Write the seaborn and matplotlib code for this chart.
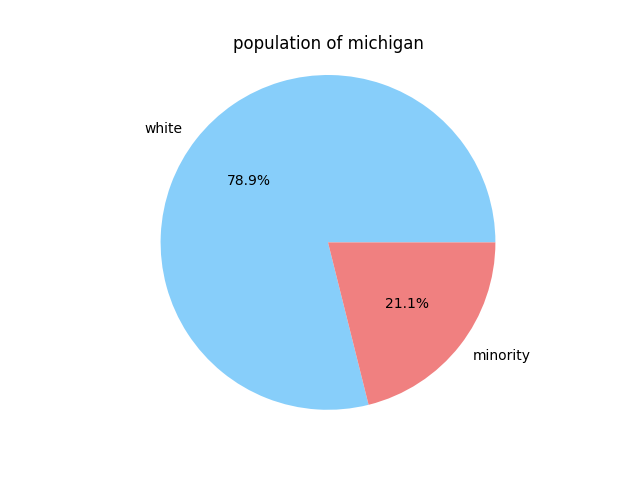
import matplotlib
matplotlib.use("Agg")
import matplotlib.pyplot as plt
import seaborn as sns

labels = ["white", "minority"]
values = [78.9, 21.1]
colors = ["lightskyblue", "lightcoral"]
title = "population of michigan"

sns.reset_orig()
fig, ax = plt.subplots(figsize=(6.4, 4.8), dpi=100)
ax.pie(values, labels=labels, colors=colors, autopct="%1.1f%%")
ax.set_xlim(-1.104, 1.104)
ax.set_ylim(-1.104, 1.104)
ax.set_aspect("equal")
ax.set_title(title)
fig.savefig("out.png", dpi=100)
